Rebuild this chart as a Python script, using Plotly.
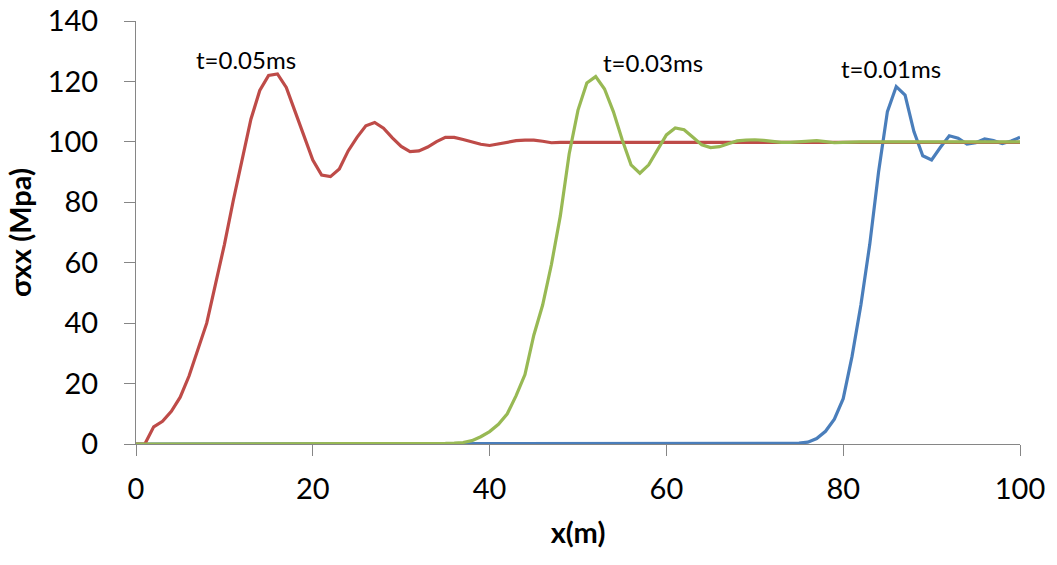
import plotly.graph_objects as go

# Position along the bar (m)
x_m = list(range(0, 101))

# Stress sxx (MPa) at three times
sxx_001 = [0.0] * 73 + [
    0.1, 0.2, 0.3, 0.6, 1.8, 4.2, 8.2, 15, 29, 46,
    66, 90, 110, 118.3, 115.5, 103.4, 95.4, 94, 98.2, 102,
    101.2, 99.3, 99.7, 101, 100.4, 99.4, 100.3, 101.5,
]
sxx_005 = [
    0, 0, 5.7, 7.5, 10.8, 15.5, 22.5, 31.5, 40, 53,
    66, 80.5, 94, 107.5, 117, 122, 122.5, 118, 110, 102,
    94, 89, 88.5, 91, 97, 101.5, 105.3, 106.4, 104.5, 101.3,
    98.5, 96.8, 97, 98.3, 100.1, 101.5, 101.5, 100.8, 100, 99.2,
    98.8, 99.3, 100, 100.4, 100.6, 100.6, 100.2, 99.7, 99.8, 99.8,
] + [99.8] * 51
sxx_003 = [0.0] * 34 + [
    0.1, 0.2, 0.3, 0.5, 1.1, 2.4, 4.1, 6.5, 10, 16,
    23, 36, 46, 59.5, 75.5, 96, 110.5, 119.5, 121.6, 117.5,
    110, 100.7, 92.4, 89.6, 92.4, 97.3, 102.3, 104.6, 104, 101.5,
    99, 98.1, 98.4, 99.4, 100.3, 100.6, 100.7, 100.5, 100.1, 99.8,
    99.8, 100, 100.2, 100.4, 100.1, 99.7, 99.8,
] + [100.0] * 20

series = [
    ("t=0.01ms", sxx_001, "#4A7EBB"),
    ("t=0.05ms", sxx_005, "#BE4B48"),
    ("t=0.03ms", sxx_003, "#98B954"),
]

# Label anchor points (x, y) for each curve
labels = [
    ("t=0.05ms", 12.4, 127.4),
    ("t=0.03ms", 58.5, 126.4),
    ("t=0.01ms", 85.4, 124.3),
]

FONT = "Lato, 'Open Sans', sans-serif"
AXIS_GREY = "#868686"

fig = go.Figure()
for name, ys, color in series:
    fig.add_trace(go.Scatter(
        x=x_m, y=ys, mode="lines", name=name,
        line=dict(color=color, width=3.2),
    ))

for text, lx, ly in labels:
    fig.add_annotation(
        x=lx, y=ly, text=text, showarrow=False,
        font=dict(family=FONT, size=24, color="#000000"),
        xanchor="center", yanchor="middle",
    )

fig.update_layout(
    width=1057, height=565,
    margin=dict(l=136, r=37, t=21, b=121, autoexpand=False),
    paper_bgcolor="white", plot_bgcolor="white",
    showlegend=False,
    font=dict(family=FONT, color="#000000"),
)
fig.update_xaxes(
    range=[0, 100], tickvals=[0, 20, 40, 60, 80, 100],
    showgrid=False, zeroline=False, automargin=False,
    showline=True, linecolor=AXIS_GREY, linewidth=1,
    ticks="outside", ticklen=11, tickcolor=AXIS_GREY, tickwidth=1,
    tickfont=dict(family=FONT, size=29, color="#000000"),
    ticklabelstandoff=8,
    title=dict(text="<b>x(m)</b>", font=dict(family=FONT, size=29, color="#000000"), standoff=18),
)
fig.update_yaxes(
    range=[0, 140], tickvals=[0, 20, 40, 60, 80, 100, 120, 140],
    showgrid=False, zeroline=False, automargin=False,
    showline=True, linecolor=AXIS_GREY, linewidth=1,
    ticks="outside", ticklen=11, tickcolor=AXIS_GREY, tickwidth=1,
    tickfont=dict(family=FONT, size=29, color="#000000"),
    ticklabelstandoff=20,
    title=dict(text="<b>σxx (Mpa)</b>", font=dict(family=FONT, size=29, color="#000000"), standoff=7),
)

fig.write_html("out.html")
